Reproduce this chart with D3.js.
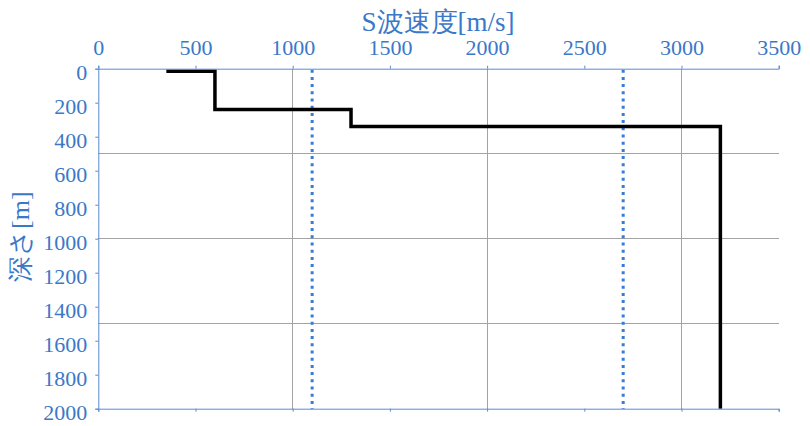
<!DOCTYPE html>
<html><head><meta charset="utf-8">
<script src="https://cdn.jsdelivr.net/npm/d3@7/dist/d3.min.js"></script>
<style>body{margin:0;background:#fff;}svg{display:block;}
.t{font-family:"Liberation Serif",serif;}</style>
</head><body><svg id="c" width="810" height="426"></svg>
<script>
const xTicks = [0, 500, 1000, 1500, 2000, 2500, 3000, 3500];
const yTicks = [0, 200, 400, 600, 800, 1000, 1200, 1400, 1600, 1800, 2000];
const xGrid = [1000, 2000, 3000];
const yGrid = [500, 1000, 1500];
const stepVs = [350, 600, 600, 1300, 1300, 3200, 3200];
const stepDepths = [15, 15, 240, 240, 340, 340, 2000];
const refVs = [1100, 2700];
const xTitle = "S波速度[m/s]";
const yTitle = "深さ[m]";

const L = 98.3, R = 778.7, T = 68.7, B = 408.7;
const blue = "#3b78c8", axisBlue = "#5b8bd0", grid = "#a3a3a3";
const svg = d3.select("#c");
const x = d3.scaleLinear().domain([0, 3500]).range([L, R]);
const y = d3.scaleLinear().domain([0, 2000]).range([T, B]);

// grid
svg.selectAll(".gx").data(xGrid).join("line")
  .attr("x1", d => x(d)).attr("x2", d => x(d)).attr("y1", T).attr("y2", B)
  .attr("stroke", grid).attr("stroke-width", 1).attr("shape-rendering", "crispEdges");
svg.selectAll(".gy").data(yGrid).join("line")
  .attr("x1", L).attr("x2", R).attr("y1", d => y(d)).attr("y2", d => y(d))
  .attr("stroke", grid).attr("stroke-width", 1).attr("shape-rendering", "crispEdges");

// reference dotted lines
svg.selectAll(".ref").data(refVs).join("line")
  .attr("x1", d => x(d)).attr("x2", d => x(d)).attr("y1", T + 1).attr("y2", B)
  .attr("stroke", "#3a7bd5").attr("stroke-width", 3).attr("stroke-dasharray", "3,4.2");

// step line
const line = d3.line().x(d => x(d[0])).y(d => y(d[1]));
svg.append("path").datum(stepVs.map((v, i) => [v, stepDepths[i]]))
  .attr("d", line).attr("fill", "none").attr("stroke", "#000").attr("stroke-width", 3.5)
  .attr("stroke-linejoin", "miter").attr("stroke-linecap", "butt");

// axes
const fmt = d3.format("d");
const gTop = svg.append("g").attr("transform", `translate(0,${T})`)
  .call(d3.axisTop(x).tickValues(xTicks).tickSize(3).tickPadding(11).tickFormat(fmt));
const gLeft = svg.append("g").attr("transform", `translate(${L},0)`)
  .call(d3.axisLeft(y).tickValues(yTicks).tickSize(3).tickPadding(10).tickFormat(fmt));
const gBot = svg.append("g").attr("transform", `translate(0,${B})`)
  .call(d3.axisBottom(x).tickValues(xTicks).tickSize(3).tickFormat(""));
[gTop, gLeft, gBot].forEach(g => {
  g.attr("font-family", null).attr("font-size", null);
  g.select(".domain").attr("stroke", axisBlue).attr("stroke-width", 1);
  g.selectAll(".tick line").attr("stroke", axisBlue);
  g.selectAll("text").attr("class", "t").attr("fill", blue).attr("font-size", 22);
});
gTop.selectAll("text").attr("dy", 0);
gLeft.selectAll("text").attr("dy", "0.47em").attr("x", -11);

// titles
svg.append("text").attr("class", "t").attr("x", 438).attr("y", 31).attr("text-anchor", "middle")
  .attr("fill", blue).attr("font-size", 27).text(xTitle);
svg.append("text").attr("class", "t").attr("transform", `translate(29,${(T + B) / 2 - 2}) rotate(-90)`)
  .attr("text-anchor", "middle").attr("fill", blue).attr("font-size", 26).text(yTitle);
</script></body></html>
